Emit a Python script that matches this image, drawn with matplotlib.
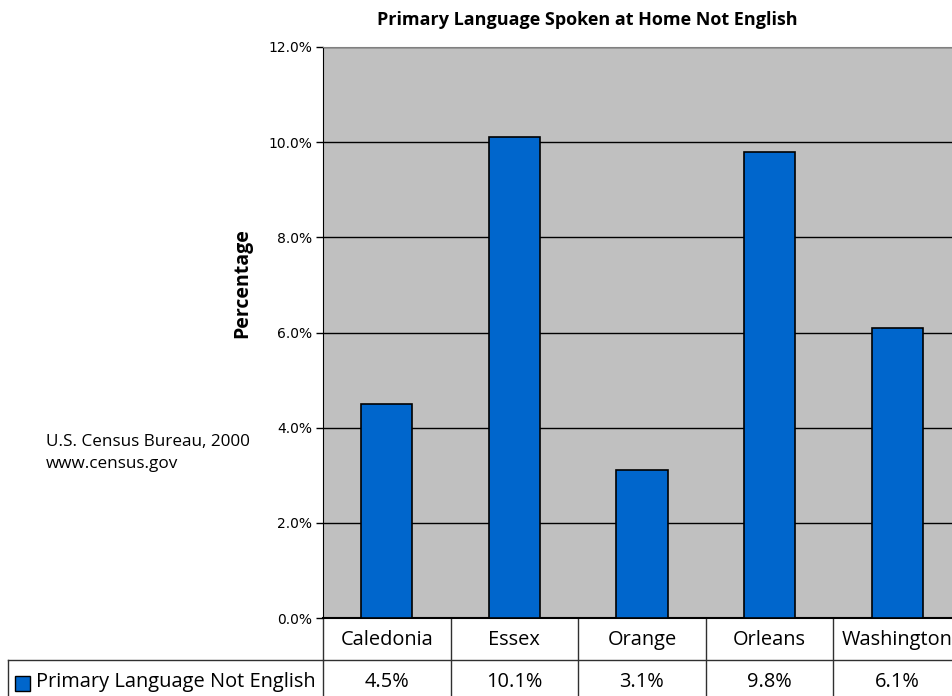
import matplotlib
matplotlib.use("Agg")
import matplotlib.pyplot as plt
from matplotlib.patches import Rectangle
from matplotlib.ticker import FuncFormatter

counties = ["Caledonia", "Essex", "Orange", "Orleans", "Washington"]
pct_not_english = [4.5, 10.1, 3.1, 9.8, 6.1]
value_labels = ["4.5%", "10.1%", "3.1%", "9.8%", "6.1%"]
series_name = "Primary Language Not English"

W, H = 953, 696
fig = plt.figure(figsize=(W / 100, H / 100), dpi=100)
fig.patch.set_facecolor("white")

# plot area in pixels (extends past the right edge, as in the source)
left_px, right_px, top_px, bot_px = 323, 961, 47, 618
ax = fig.add_axes([left_px / W, 1 - bot_px / H, (right_px - left_px) / W, (bot_px - top_px) / H])
ax.set_facecolor("#C0C0C0")

x = list(range(len(counties)))
ax.bar(x, pct_not_english, width=0.4, color="#0066CC", edgecolor="black", linewidth=1.2, zorder=3)

ax.set_xlim(-0.5, len(counties) - 0.5)
ax.set_ylim(0, 12)
ax.set_yticks([0, 2, 4, 6, 8, 10, 12])
ax.yaxis.set_major_formatter(FuncFormatter(lambda v, p: f"{v:.1f}%"))
ax.grid(axis="y", color="black", linewidth=1, zorder=1)
ax.set_xticks([])
for t in ax.get_yticklabels():
    t.set_fontfamily("DejaVu Sans")
    t.set_fontsize(10)
ax.tick_params(axis="y", length=5, width=1, pad=3)
for s in ["top", "right"]:
    ax.spines[s].set_color("#808080")
ax.spines["left"].set_color("black")
ax.spines["bottom"].set_color("black")
ax.spines["bottom"].set_linewidth(1.5)

fig.text(242 / W, 1 - 283 / H, "Percentage", rotation=90, ha="center", va="center",
         fontfamily="Open Sans", fontweight="bold", fontsize=14)

fig.text(587 / W, 1 - 20 / H, "Primary Language Spoken at Home Not English",
         ha="center", va="center", fontfamily="Open Sans", fontweight="bold", fontsize=13)

fig.text(46 / W, 1 - 453 / H, "U.S. Census Bureau, 2000\nwww.census.gov", ha="left", va="center",
         fontfamily="Open Sans", fontsize=12.3, linespacing=1.55)

# data table below the plot
trans = ax.get_xaxis_transform()
ycoord = lambda px: (bot_px - px) / (bot_px - top_px)
hdr_mid, row_line, row_mid = ycoord(640), ycoord(660), ycoord(682)
line_kw = dict(transform=trans, clip_on=False, color="#303030", linewidth=1)
for i, name in enumerate(counties):
    ax.text(i, hdr_mid, name, transform=trans, ha="center", va="center",
            fontfamily="Open Sans", fontsize=14.4)
    ax.text(i, row_mid, value_labels[i], transform=trans, ha="center", va="center",
            fontfamily="Open Sans", fontsize=14.4)
for b in [i - 0.5 for i in range(len(counties))]:
    ax.plot([b, b], [ycoord(618), ycoord(700)], **line_kw)
ax.plot([-0.5, len(counties) - 0.5], [row_line, row_line], **line_kw)

# legend cell spanning to the left
fig_line = dict(transform=fig.transFigure, color="#303030", linewidth=1)
fig.add_artist(plt.Line2D([8 / W, left_px / W], [1 - 660 / H, 1 - 660 / H], **fig_line))
fig.add_artist(plt.Line2D([8 / W, 8 / W], [1 - 660 / H, 0], **fig_line))
fig.add_artist(Rectangle((15 / W, 1 - 691 / H), 15 / W, 15 / H, transform=fig.transFigure,
                         facecolor="#0066CC", edgecolor="black", linewidth=1))
fig.text(36 / W, 1 - 682 / H, series_name, ha="left", va="center",
         fontfamily="Open Sans", fontsize=14.4)

fig.savefig("out.png", dpi=100)
